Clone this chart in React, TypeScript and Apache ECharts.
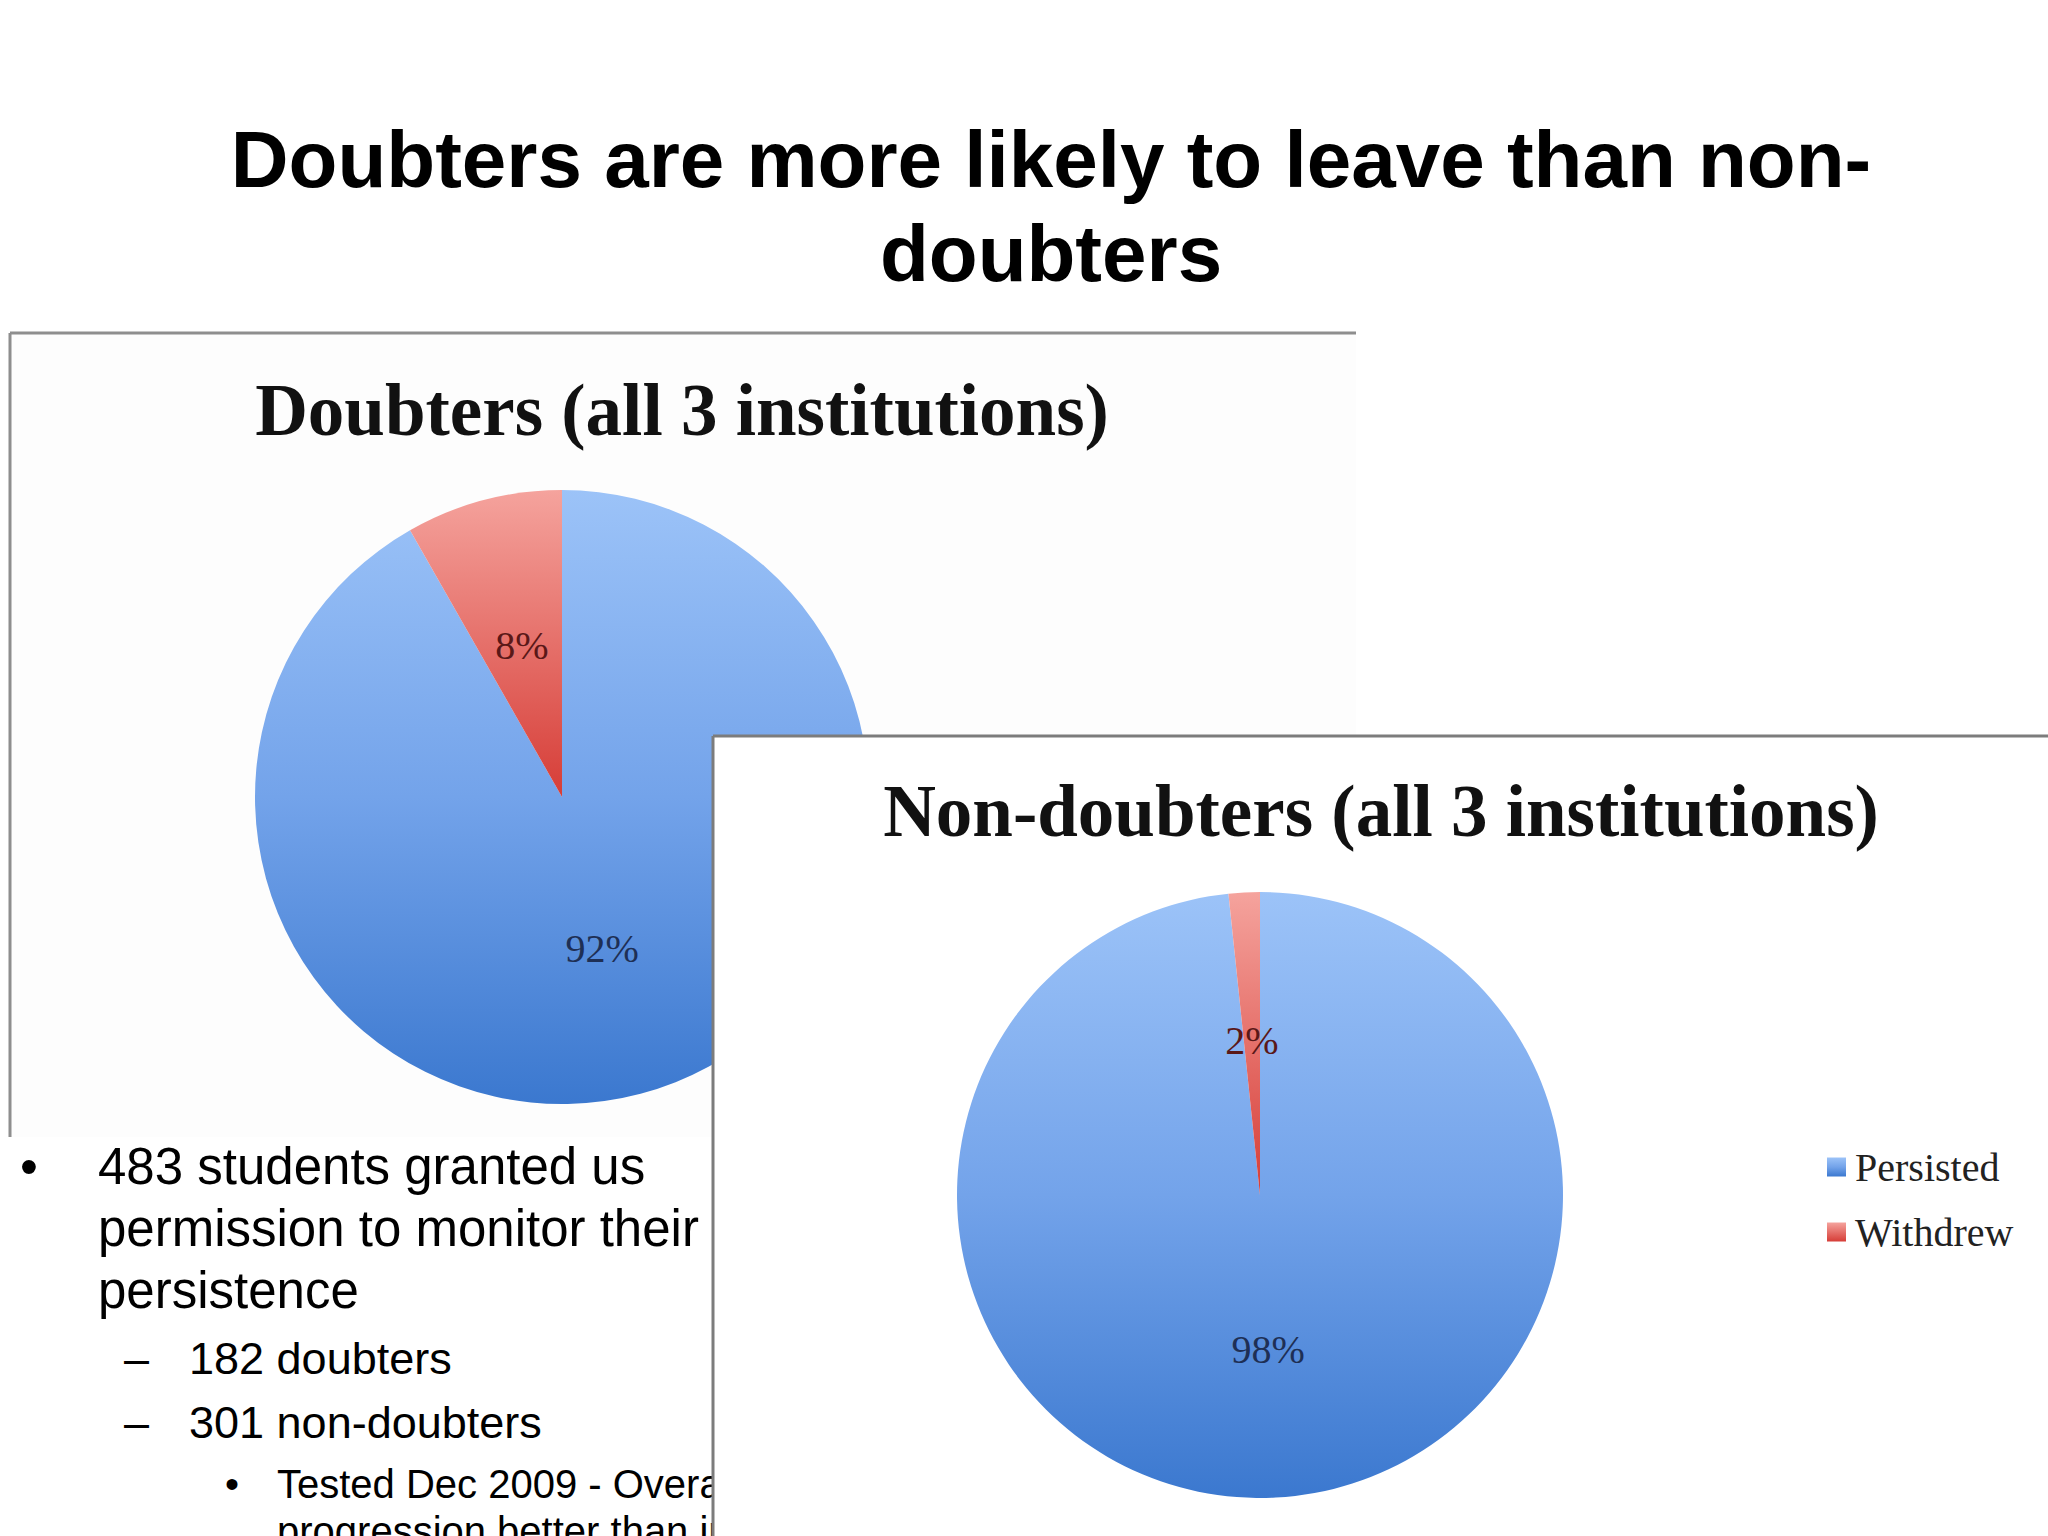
import React, { useEffect, useRef } from "react";
import * as echarts from "echarts";

// ---- data ----
const categories = ["Persisted", "Withdrew"];
// student counts (182 doubters, 301 non-doubters); slices show rounded percentages
const doubtersValues = [167, 15];
const nonDoubtersValues = [296, 5];
const pageTitleLines = ["Doubters are more likely to leave than non-", "doubters"];
const chartTitles = ["Doubters (all 3 institutions)", "Non-doubters (all 3 institutions)"];
const bulletMain = ["483 students granted us", "permission to monitor their", "persistence"];
const bulletSub = ["182 doubters", "301 non-doubters"];
const bulletSubSub = ["Tested Dec 2009 - Overall", "progression better than in"];

const blueGrad = {
  type: "linear", x: 0, y: 0, x2: 0, y2: 1,
  colorStops: [
    { offset: 0, color: "#9cc3f8" },
    { offset: 0.5, color: "#73a3ea" },
    { offset: 1, color: "#3b78cf" },
  ],
};
const redGrad = {
  type: "linear", x: 0, y: 0, x2: 0, y2: 1,
  colorStops: [
    { offset: 0, color: "#f5a39d" },
    { offset: 1, color: "#d63d37" },
  ],
};
const sliceColors = [blueGrad, redGrad];
const labelColors = ["#1e2f55", "#5a1818"];

function pieData(values: number[]) {
  return categories.map((name, i) => ({
    name,
    value: values[i],
    itemStyle: { color: sliceColors[i] },
    label: { color: labelColors[i] },
  }));
}

export default function App() {
  const ref = useRef<HTMLDivElement>(null);
  useEffect(() => {
    if (!ref.current) return;
    const chart = echarts.init(ref.current, null, { renderer: "svg" });
    const serif = "Liberation Serif";
    const sans = "Liberation Sans";
    const txt = (text: string, x: number, y: number, size: number, opts: any = {}) => ({
      type: "text",
      x,
      y,
      z: opts.z ?? 1,
      style: {
        text,
        fill: opts.fill ?? "#000",
        fontSize: size,
        fontWeight: opts.bold ? "bold" : "normal",
        fontFamily: opts.family ?? sans,
        textAlign: opts.align ?? "left",
        textVerticalAlign: "middle",
        align: opts.align ?? "left",
        verticalAlign: "middle",
      },
    });
    const graphics: any[] = [
      // panel 1 background + borders
      { type: "rect", z: 0, shape: { x: 10, y: 333, width: 1346, height: 804 }, style: { fill: "#fdfdfd" } },
      { type: "line", z: 1, shape: { x1: 10, y1: 333, x2: 1356, y2: 333 }, style: { stroke: "#8e8e8e", lineWidth: 3 } },
      { type: "line", z: 1, shape: { x1: 10, y1: 333, x2: 10, y2: 1137 }, style: { stroke: "#8e8e8e", lineWidth: 3 } },
      txt(chartTitles[0], 682, 410, 73, { bold: true, family: serif, align: "center", z: 1, fill: "#111" }),
      // bullet list
      txt("•", 29, 1166, 51, { align: "center" }),
      txt(bulletMain[0], 98, 1166, 51),
      txt(bulletMain[1], 98, 1228, 51),
      txt(bulletMain[2], 98, 1290, 51),
      txt("–", 124, 1358, 45),
      txt(bulletSub[0], 189, 1358, 45),
      txt("–", 124, 1422, 45),
      txt(bulletSub[1], 189, 1422, 45),
      txt("•", 232, 1484, 40, { align: "center" }),
      txt(bulletSubSub[0], 277, 1484, 40),
      txt(bulletSubSub[1], 277, 1531, 40),
      // panel 2 background + borders
      { type: "rect", z: 5, shape: { x: 713, y: 736, width: 1340, height: 810 }, style: { fill: "#ffffff" } },
      { type: "line", z: 6, shape: { x1: 713, y1: 736, x2: 2048, y2: 736 }, style: { stroke: "#7c7c7c", lineWidth: 3 } },
      { type: "line", z: 6, shape: { x1: 713, y1: 736, x2: 713, y2: 1536 }, style: { stroke: "#7c7c7c", lineWidth: 3 } },
      txt(chartTitles[1], 1381, 811, 73, { bold: true, family: serif, align: "center", z: 7, fill: "#111" }),
      // page title
      txt(pageTitleLines[0], 1051, 159, 80, { bold: true, align: "center", z: 9 }),
      txt(pageTitleLines[1], 1051, 253, 80, { bold: true, align: "center", z: 9 }),
    ];

    const pieCommon = {
      type: "pie",
      startAngle: 90,
      clockwise: true,
      animation: false,
      silent: true,
      percentPrecision: 0,
      emphasis: { disabled: true },
      itemStyle: { borderWidth: 0 },
      labelLine: { show: false },
      label: {
        show: true,
        position: "inside",
        formatter: "{d}%",
        fontFamily: serif,
        fontSize: 40,
        fontWeight: "normal",
      },
    };

    chart.setOption({
      animation: false,
      backgroundColor: "#ffffff",
      graphic: { elements: graphics },
      legend: {
        z: 8,
        orient: "vertical",
        left: 1822,
        top: 1142,
        itemWidth: 19,
        itemHeight: 19,
        itemGap: 25,
        icon: "rect",
        data: categories,
        selectedMode: false,
        textStyle: { fontFamily: serif, fontSize: 40, color: "#222", padding: [0, 0, 0, 4] },
      },
      series: [
        {
          ...pieCommon,
          name: "Doubters",
          z: 2,
          center: [562, 797],
          radius: 307,
          data: pieData(doubtersValues),
        },
        {
          ...pieCommon,
          name: "Non-doubters",
          z: 6,
          center: [1260, 1195],
          radius: 303,
          data: pieData(nonDoubtersValues),
        },
      ],
    });
    return () => chart.dispose();
  }, []);
  return (
    <div
      ref={ref}
      style={{ position: "fixed", left: 0, top: 0, width: 2048, height: 1536, background: "#fff" }}
    />
  );
}
